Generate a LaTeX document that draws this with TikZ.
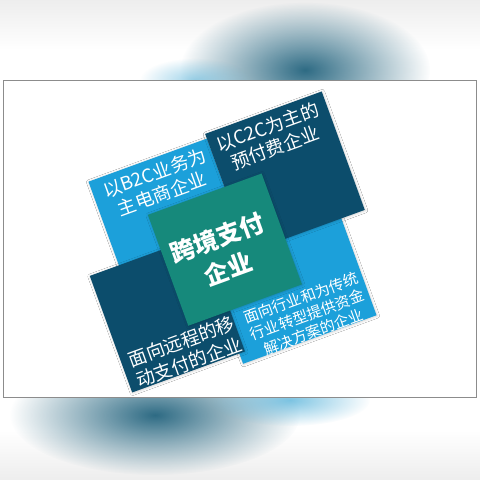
\documentclass[tikz,border=0pt]{standalone}
\usepackage{fontspec}
\newfontfamily\cjk{Noto Sans CJK SC}
\usepackage{tikz}
\usetikzlibrary{
  positioning,
  fadings,       % Soft blobs of the blurred background
  shadows.blur,  % Soft shadow round the squares
}
\definecolor{lightblue}{HTML}{1CA0DA}
\definecolor{darkblue}{HTML}{0C4D6C}
\definecolor{coreteal}{HTML}{16897B}
\definecolor{blurdark}{HTML}{2E6B84}
\definecolor{blurlight}{HTML}{5DB6DC}
\definecolor{framegray}{HTML}{8C8C8C}
\def\mysmallfont{\fontsize{18.5}{22}\selectfont}
\def\mytinyfont{\fontsize{15}{18}\selectfont}
\def\mybigfont{\fontsize{24.5}{33}\selectfont}
\tikzfading[name=soft blob,inner color=transparent!0,outer color=transparent!100]
\tikzset{
  font=\cjk,
  my square/.style={
    draw=none,
    inner sep=0pt,
    rectangle,
    blur shadow={shadow xshift=0.5pt,shadow yshift=-0.5pt,
      shadow blur radius=2.5pt,shadow opacity=20}
  },
  light square/.style={my square,fill=lightblue},
  dark square/.style={my square,fill=darkblue},
  core square/.style={my square,fill=coreteal},
  square text/.style={
    text=white,
    align=center,
    inner sep=0pt,
    font=\cjk\mysmallfont
  },
  blob/.style={path fading=soft blob}
}
\begin{document}
\begin{tikzpicture}[x=1pt,y=1pt]
\useasboundingbox (0,0) rectangle (480,480);
\begin{scope}
\clip (0,0) rectangle (480,480);
% blurred background
\fill[white] (0,0) rectangle (480,480);
\fill[top color=black!7,bottom color=white] (0,430) rectangle (480,480);
\fill[top color=white,bottom color=black!7] (0,0) rectangle (480,50);
\fill[blurdark,blob] (305,410) ellipse (125pt and 68pt);
\fill[blurlight,blob,opacity=0.6] (195,400) ellipse (55pt and 22pt);
\fill[blurdark,blob] (155,65) ellipse (145pt and 60pt);
\fill[blurlight,blob,opacity=0.8] (290,80) ellipse (80pt and 26pt);
\end{scope}
% white sheet
\node[draw=framegray,line width=0.9pt,fill=white,inner sep=0pt,
  minimum width=473,minimum height=317,anchor=south west] (sheet) at (3,82) {};
\begin{scope}[shift={(0,480)},rotate=20,transform shape]
\node[light square,minimum width=126,minimum height=124] (b2c)      at (84,-263)    {};
\node[light square,minimum width=142,minimum height=125] (industry) at (175,-362.5) {};
\node[dark square, minimum width=124,minimum height=126] (c2c)      at (209,-259)   {};
\node[dark square, minimum width=120,minimum height=124] (remote)   at (50,-352)    {};
\node[core square, minimum width=121,minimum height=118] (core)     at (126,-311.5) {};
\node[square text] (b2c text)      at (86,-226.5) {以B2C业务为\\主电商企业};
\node[square text] (c2c text)      at (208,-222)  {以C2C为主的\\预付费企业};
\node[square text] (remote text)   at (54,-394)   {面向远程的移\\动支付的企业};
\node[square text,font=\cjk\mytinyfont] (industry text) at (181,-401)
  {面向行业和为传统\\行业转型提供资金\\解决方案的企业};
\node[square text,font=\cjk\bfseries\mybigfont] (core text) at (123,-314)
  {跨境支付\\企业};
\end{scope}
\end{tikzpicture}
\end{document}
